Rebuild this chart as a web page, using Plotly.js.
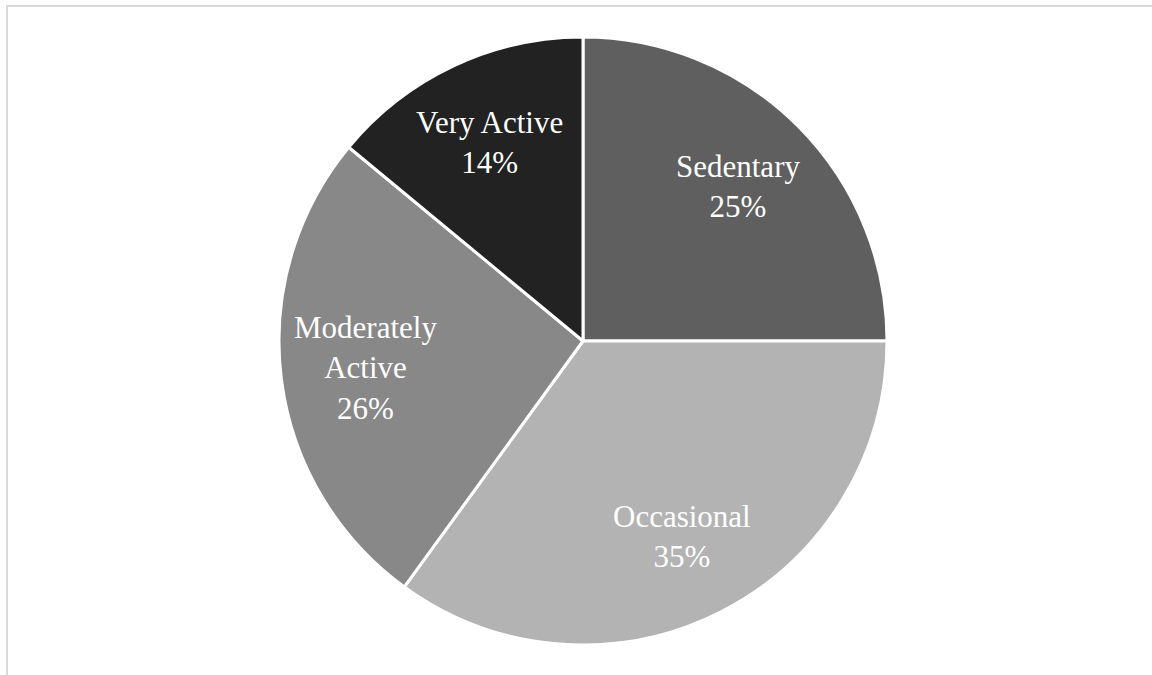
<!DOCTYPE html>
<html>
<head>
<meta charset="utf-8">
<script src="https://cdn.plot.ly/plotly-3.0.1.min.js"></script>
<style>
  html, body { margin: 0; padding: 0; background: #ffffff; overflow: hidden; }
  #chart { width: 1152px; height: 675px; }
  #frame { position: absolute; left: 6px; top: 5px; width: 1300px; height: 800px;
           border: 2px solid #d9d9d9; box-sizing: border-box; pointer-events: none; }
</style>
</head>
<body>
<div id="chart"></div>
<div id="frame"></div>
<script>
const categories = ["Sedentary", "Occasional", "Moderately Active", "Very Active"];
const displayLabels = ["Sedentary", "Occasional", "Moderately<br>Active", "Very Active"];
const shares = [25, 35, 26, 14];
const sliceColors = ["#5f5f5f", "#b3b3b3", "#888888", "#222222"];

const W = 1152, H = 675;
const margin = { l: 0, r: 0, t: 37, b: 30 };
const domainX = [279 / W, 887 / W];
const domainY = [0, 1];
const labelRadiusFraction = 0.72;

const trace = {
  type: "pie",
  labels: categories,
  values: shares,
  sort: false,
  direction: "clockwise",
  rotation: 0,
  textinfo: "none",
  marker: { colors: sliceColors, line: { color: "#ffffff", width: 3 } },
  hoverinfo: "none",
  domain: { x: domainX, y: domainY }
};

// Data labels placed along each slice's mid-angle, computed from the values
const total = shares.reduce((a, b) => a + b, 0);
const plotW = W - margin.l - margin.r, plotH = H - margin.t - margin.b;
const cxPx = (domainX[0] + domainX[1]) / 2 * plotW;
const cyPx = (1 - (domainY[0] + domainY[1]) / 2) * plotH;
const rPx = Math.min((domainX[1] - domainX[0]) * plotW, (domainY[1] - domainY[0]) * plotH) / 2;
let cum = 0;
const annotations = shares.map((v, i) => {
  const mid = (cum + v / 2) / total * 2 * Math.PI;
  cum += v;
  const px = cxPx + Math.sin(mid) * rPx * labelRadiusFraction;
  const py = cyPx - Math.cos(mid) * rPx * labelRadiusFraction;
  const pct = Math.round(v / total * 100) + "%";
  return {
    xref: "paper", yref: "paper",
    x: px / plotW, y: 1 - py / plotH,
    xanchor: "center", yanchor: "middle",
    showarrow: false,
    text: displayLabels[i] + "<br>" + pct,
    font: { family: "Liberation Serif, Times New Roman, serif", size: 31, color: "#ffffff" }
  };
});

const layout = {
  width: W,
  height: H,
  margin: margin,
  paper_bgcolor: "#ffffff",
  showlegend: false,
  annotations: annotations
};

Plotly.newPlot("chart", [trace], layout, { displayModeBar: false, staticPlot: true });
</script>
</body>
</html>
